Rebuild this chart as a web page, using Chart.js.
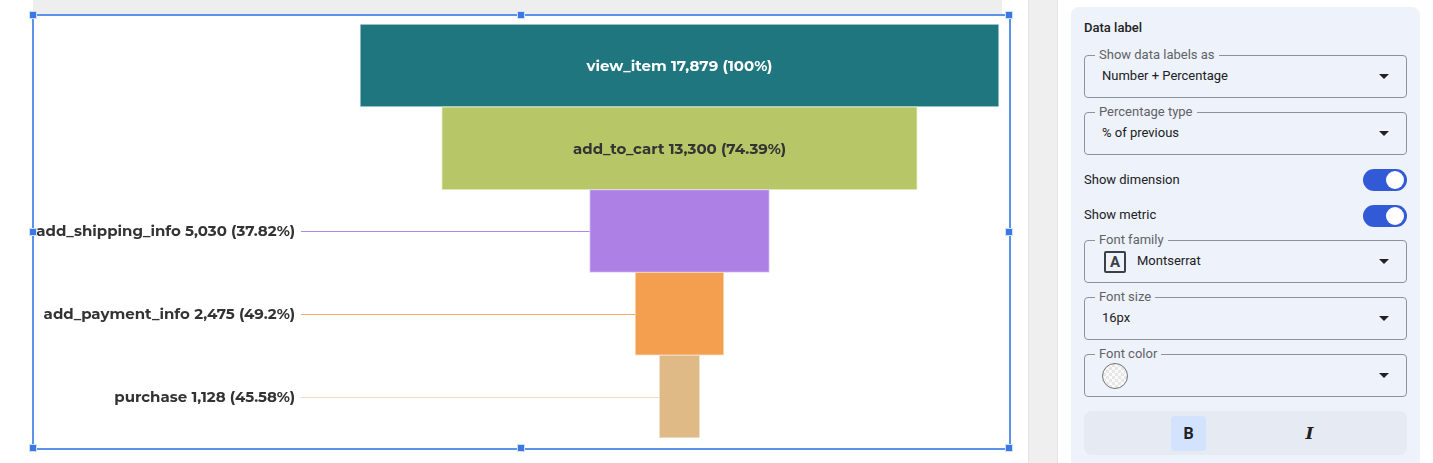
<!DOCTYPE html>
<html>
<head>
<meta charset="utf-8">
<script src="https://cdn.jsdelivr.net/npm/chart.js@4"></script>
<style>
  body { margin: 0; width: 1433px; height: 463px; background: #fff; position: relative; overflow: hidden; font-family: Roboto, "Noto Sans", sans-serif; }
  .abs { position: absolute; }
  #topbar { left: 33px; top: 0; width: 969px; height: 14px; background: #eeeeee; }
  #frame { left: 32px; top: 14px; width: 979px; height: 436px; border: 2px solid #5a93ea; box-sizing: border-box; }
  .handle { width: 6px; height: 6px; background: #3b78e7; border: 1px solid #cfe0fb; }
  #chartBox { left: 34px; top: 16px; }
  #gutter { left: 1028px; top: 0; width: 30px; height: 463px; background: #efefef; border-left: 1px solid #e2e2e2; border-right: 1px solid #e4e4e4; box-sizing: border-box; }
  #card { left: 1071px; top: 7px; width: 349px; height: 470px; background: #eef2fa; border-radius: 8px; }
  .title { left: 13px; top: 13px; font-size: 13px; font-weight: 500; color: #222; }
  .field { left: 13px; width: 323px; height: 43px; border: 1px solid #8f9399; border-radius: 4px; box-sizing: border-box; }
  .field .lab { position: absolute; left: 10px; top: -9px; padding: 0 4px; background: #eef2fa; font-size: 13px; color: #5f6368; line-height: 16px; }
  .field .val { position: absolute; left: 17px; top: 12px; font-size: 13px; color: #202124; line-height: 16px; }
  .field .arrow { position: absolute; right: 17px; top: 18px; width: 0; height: 0; border-left: 5px solid transparent; border-right: 5px solid transparent; border-top: 5px solid #202124; }
  .row { left: 13px; font-size: 13px; color: #202124; line-height: 16px; }
  .toggle { left: 292px; width: 44px; height: 22px; border-radius: 11px; background: #3259d6; }
  .toggle::after { content: ""; position: absolute; right: 3px; top: 2px; width: 18px; height: 18px; border-radius: 50%; background: #fff; }
  .iconA { left: 19px; top: 10px; width: 18px; height: 18px; border: 2px solid #3c4043; border-radius: 2px; font-size: 15px; font-weight: 700; color: #3c4043; text-align: center; line-height: 18px; }
  .swatch { left: 17px; top: 8px; width: 26px; height: 26px; border-radius: 50%; border: 1px solid #70757a;
    background: repeating-conic-gradient(#e6e6e6 0% 25%, #fafafa 0% 50%) 0 0 / 6px 6px; box-sizing: border-box; }
  #tools { left: 13px; top: 404px; width: 323px; height: 44px; border-radius: 8px; background: #e6eaf3; }
  #bbtn { left: 87px; top: 5px; width: 35px; height: 35px; border-radius: 4px; background: #d3e3fd; font-size: 16px; font-weight: 700; color: #202124; text-align: center; line-height: 35px; }
  #ibtn { left: 208px; top: 5px; width: 35px; height: 35px; font-size: 17px; font-weight: 700; font-style: italic; color: #202124; text-align: center; line-height: 35px; font-family: "DejaVu Serif", serif; }
</style>
</head>
<body>
<div id="topbar" class="abs"></div>
<div id="chartBox" class="abs"><canvas id="funnel" width="974" height="431"></canvas></div>
<div id="frame" class="abs"></div>
<div class="abs handle" style="left:29px;top:11px"></div>
<div class="abs handle" style="left:517px;top:11px"></div>
<div class="abs handle" style="left:1005px;top:11px"></div>
<div class="abs handle" style="left:29px;top:228px"></div>
<div class="abs handle" style="left:1005px;top:228px"></div>
<div class="abs handle" style="left:29px;top:444px"></div>
<div class="abs handle" style="left:517px;top:444px"></div>
<div class="abs handle" style="left:1005px;top:444px"></div>

<div id="gutter" class="abs"></div>
<div id="card" class="abs">
  <div class="abs title">Data label</div>
  <div class="abs field" style="top:48px"><span class="lab">Show data labels as</span><span class="val">Number + Percentage</span><span class="arrow"></span></div>
  <div class="abs field" style="top:105px"><span class="lab">Percentage type</span><span class="val">% of previous</span><span class="arrow"></span></div>
  <div class="abs row" style="top:165px">Show dimension</div>
  <div class="abs toggle" style="top:162px"></div>
  <div class="abs row" style="top:200px">Show metric</div>
  <div class="abs toggle" style="top:198px"></div>
  <div class="abs field" style="top:233px"><span class="lab">Font family</span><div class="abs iconA">A</div><span class="val" style="left:52px">Montserrat</span><span class="arrow"></span></div>
  <div class="abs field" style="top:290px"><span class="lab">Font size</span><span class="val">16px</span><span class="arrow"></span></div>
  <div class="abs field" style="top:347px"><span class="lab">Font color</span><div class="abs swatch"></div><span class="arrow"></span></div>
  <div id="tools" class="abs"><div id="bbtn" class="abs">B</div><div id="ibtn" class="abs">I</div></div>
</div>

<script>
// ====== DATA ======
const steps = ["view_item", "add_to_cart", "add_shipping_info", "add_payment_info", "purchase"];
const counts = [17879, 13300, 5030, 2475, 1128];
const pctLabels = ["100%", "74.39%", "37.82%", "49.2%", "45.58%"];

// ====== STYLE ======
const barColors = ["#20767f", "#b7c767", "#ad80e6", "#f49e50", "#dfb986"];
const edgeColors = ["#bfdde0", "#dde6b4", "#e0ccf6", "#fad3ae", "#f1e1cb"];
const lineColors = ["#20767f", "#b7c767", "#b08ae4", "#f7a863", "#eedac0"];
const textColors = ["#ffffff", "#333333", "#333333", "#333333", "#333333"];
const labelFont = "bold 15px Montserrat, 'Open Sans', sans-serif";
const labelRight = 261; // right edge of outside labels (canvas px)

// funnel centred on the widest bar, 639px wide, starting 326px from the left
const unit = counts[0] / 639;
const xMin = -counts[0] / 2 - 326 * unit;
const xMax = xMin + 974 * unit;

// ====== LABEL PLUGIN ======
const funnelLabels = {
  id: "funnelLabels",
  afterDatasetsDraw(chart) {
    const ctx = chart.ctx;
    const meta = chart.getDatasetMeta(0);
    ctx.save();
    ctx.font = labelFont;
    ctx.textBaseline = "middle";
    meta.data.forEach((bar, i) => {
      const txt = `${steps[i]} ${counts[i].toLocaleString("en-US")} (${pctLabels[i]})`;
      const left = Math.min(bar.x, bar.base);
      const w = Math.abs(bar.x - bar.base);
      const tw = ctx.measureText(txt).width;
      if (tw + 20 < w) {
        ctx.textAlign = "center";
        ctx.fillStyle = textColors[i];
        ctx.fillText(txt, left + w / 2, bar.y + 1);
      } else {
        ctx.textAlign = "right";
        ctx.fillStyle = textColors[i];
        ctx.fillText(txt, labelRight, bar.y + 1);
        ctx.strokeStyle = lineColors[i];
        ctx.lineWidth = 1;
        ctx.beginPath();
        ctx.moveTo(labelRight + 6, Math.round(bar.y) + 0.5);
        ctx.lineTo(left, Math.round(bar.y) + 0.5);
        ctx.stroke();
      }
    });
    ctx.restore();
  },
};

// ====== CHART ======
new Chart(document.getElementById("funnel").getContext("2d"), {
  type: "bar",
  data: {
    labels: steps,
    datasets: [
      {
        data: counts.map((v) => [-v / 2, v / 2]),
        backgroundColor: barColors,
        borderColor: edgeColors,
        borderWidth: 1,
        borderSkipped: false,
        barPercentage: 1,
        categoryPercentage: 1,
      },
    ],
  },
  options: {
    indexAxis: "y",
    responsive: false,
    animation: false,
    layout: { padding: { top: 8, bottom: 9, left: 0, right: 0 } },
    plugins: { legend: { display: false }, tooltip: { enabled: false } },
    scales: {
      x: { display: false, min: xMin, max: xMax },
      y: { display: false },
    },
  },
  plugins: [funnelLabels],
});
</script>
</body>
</html>
